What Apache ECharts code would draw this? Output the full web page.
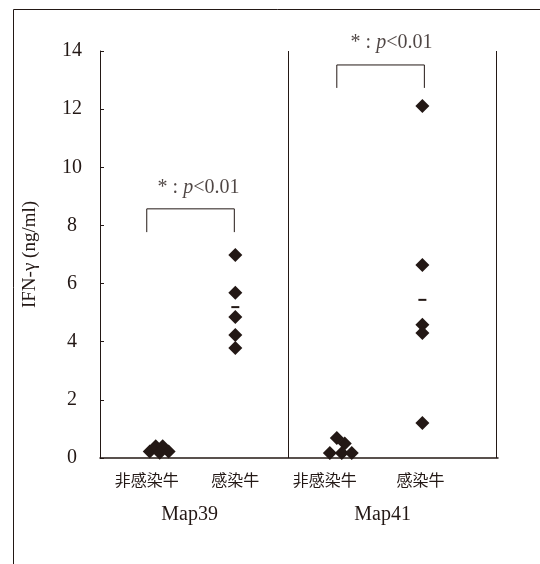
<!DOCTYPE html>
<html>
<head>
<meta charset="utf-8">
<script src="https://cdn.jsdelivr.net/npm/echarts@6/dist/echarts.min.js"></script>
<style>
  html, body { margin: 0; padding: 0; background: #fff; }
  #chart { width: 540px; height: 564px; }
</style>
</head>
<body>
<div id="chart"></div>
<script>
// data
const groupNames = ['Map39', 'Map41']
const categories = ['非感染牛', '感染牛', '非感染牛', '感染牛']
const map39Control = [0.22, 0.40, 0.40, 0.22, 0.18]
const map39Infected = [6.98, 5.68, 4.85, 4.23, 3.78]
const map41Control = [0.69, 0.50, 0.17, 0.17, 0.17]
const map41Infected = [12.11, 6.64, 4.58, 4.30, 1.20]
const infectedMeans = [5.19, 5.44] // short dash on infected columns
const pText = '<0.01'

// x layout on a 0..4 value axis
const catX = [0.47, 1.36, 2.26, 3.22]
const groupX = [0.90, 2.84]
const dividerX = [1.89, 3.98]
const map39ControlX = [0.50, 0.56, 0.63, 0.69, 0.60]
const map41ControlX = [2.38, 2.46, 2.31, 2.43, 2.53]
const infectedX = [1.36, 3.24]
const bracketX = [[0.47, 1.35], [2.38, 3.26]]
const bracketY = [[7.77, 8.57], [12.73, 13.52]]
const starPos = [[0.99, 9.29], [2.93, 14.28]]

const ink = '#231815'
const serif = '"Liberation Serif", "DejaVu Serif", serif'
const cjk = '"Noto Sans CJK JP", "Noto Sans CJK SC", sans-serif'

const pts = (xs, ys) => ys.map((v, i) => [xs[i], v])

const chart = echarts.init(document.getElementById('chart'))

const dotSeries = (data) => ({
  type: 'scatter',
  symbol: 'diamond',
  symbolSize: 14,
  itemStyle: { color: ink, opacity: 1 },
  data: data,
  z: 3,
})

const bracketSeries = bracketX.map((bx, i) => ({
  type: 'line',
  symbol: 'none',
  lineStyle: { color: ink, width: 1 },
  data: [[bx[0], bracketY[i][0]], [bx[0], bracketY[i][1]], [bx[1], bracketY[i][1]], [bx[1], bracketY[i][0]]],
}))

const option = {
  animation: false,
  graphic: [
    {
      type: 'rect',
      left: 11,
      top: 7,
      shape: { width: 600, height: 600 },
      style: { fill: 'none', stroke: ink, lineWidth: 1 },
    },
  ],
  grid: { left: 100, right: 42, top: 51, bottom: 106 },
  xAxis: [
    {
      type: 'value',
      min: 0,
      max: 4,
      splitLine: { show: false },
      axisTick: { show: false },
      axisLine: { lineStyle: { color: ink, width: 1.5 } },
      axisLabel: {
        customValues: catX,
        margin: 14,
        fontFamily: cjk,
        fontSize: 16,
        color: ink,
        formatter: (v) => categories[catX.findIndex((c) => Math.abs(c - v) < 1e-6)] || '',
      },
    },
    {
      type: 'value',
      min: 0,
      max: 4,
      position: 'bottom',
      splitLine: { show: false },
      axisTick: { show: false },
      axisLine: { show: false },
      axisLabel: {
        customValues: groupX,
        margin: 47,
        fontFamily: serif,
        fontSize: 20,
        color: ink,
        formatter: (v) => groupNames[groupX.findIndex((c) => Math.abs(c - v) < 1e-6)] || '',
      },
    },
  ],
  yAxis: {
    type: 'value',
    min: 0,
    max: 14,
    interval: 2,
    name: 'IFN-γ (ng/ml)',
    nameLocation: 'middle',
    nameGap: 60,
    nameTextStyle: { fontFamily: serif, fontSize: 19, color: ink },
    splitLine: { show: false },
    axisLine: { show: true, lineStyle: { color: ink, width: 1 } },
    axisTick: { show: true, inside: true, length: 4, lineStyle: { color: ink } },
    axisLabel: { fontFamily: serif, fontSize: 20, color: ink, align: 'center', margin: 28 },
  },
  series: [
    dotSeries(pts(map39ControlX, map39Control)),
    dotSeries(map39Infected.map((v) => [infectedX[0], v])),
    dotSeries(pts(map41ControlX, map41Control)),
    dotSeries(map41Infected.map((v) => [infectedX[1], v])),
    {
      type: 'scatter',
      symbol: 'rect',
      symbolSize: [8, 2],
      itemStyle: { color: ink, opacity: 1 },
      data: infectedMeans.map((v, i) => [infectedX[i], v]),
      markLine: {
        silent: true,
        symbol: 'none',
        label: { show: false },
        lineStyle: { color: ink, width: 1, type: 'solid' },
        data: dividerX.map((x) => ({ xAxis: x })),
      },
    },
    ...bracketSeries,
    {
      type: 'scatter',
      symbolSize: 0,
      clip: false,
      data: starPos,
      label: {
        show: true,
        position: 'inside',
        formatter: '{n|* : }{i|p}{n|' + pText + '}',
        rich: {
          n: { fontFamily: serif, fontSize: 20, color: ink },
          i: { fontFamily: serif, fontSize: 20, fontStyle: 'italic', color: ink },
        },
      },
    },
  ],
}

chart.setOption(option)
</script>
</body>
</html>
